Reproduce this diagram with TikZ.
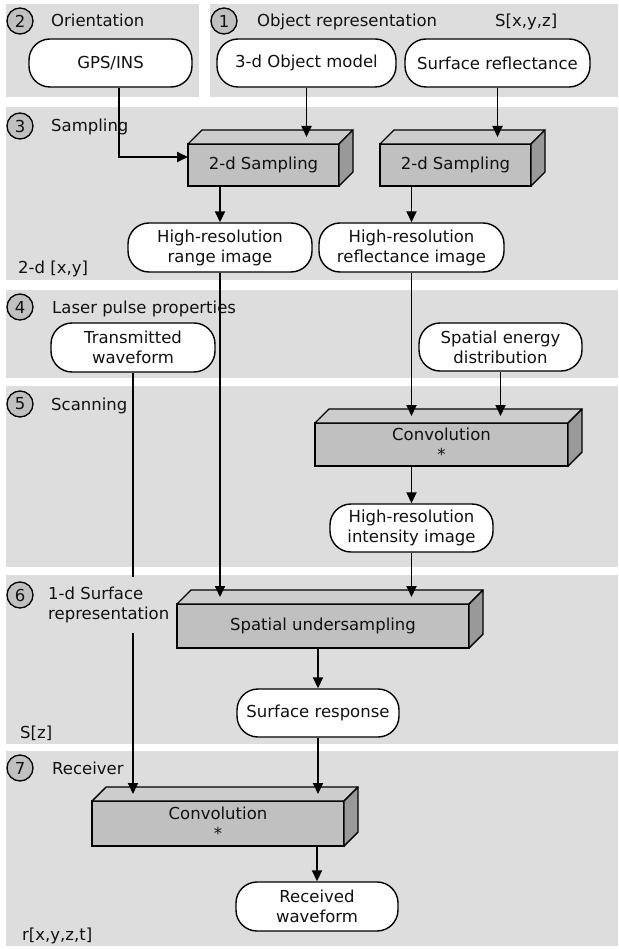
\documentclass[tikz,border=0pt]{standalone}
\usepackage{fontspec}
\setmainfont{DejaVu Sans}
\usetikzlibrary{arrows.meta,calc}
\definecolor{panel}{HTML}{DDDDDD}
\definecolor{frontc}{HTML}{C0C0C0}
\definecolor{topc}{HTML}{CDCDCD}
\definecolor{sidec}{HTML}{999999}
\definecolor{ink}{HTML}{111111}
\newcommand{\mkfaces}[1]{%
  \filldraw[fill=topc, line width=1.4pt, line join=round] (#1.north west) -- ++(14,-14) -- ($(#1.north east)+(14,-14)$) -- (#1.north east) -- cycle;
  \filldraw[fill=sidec, line width=1.4pt, line join=round] (#1.north east) -- ++(14,-14) -- ($(#1.south east)+(14,-14)$) -- (#1.south east) -- cycle;
}
\begin{document}
\begin{tikzpicture}[x=1pt,y=-1pt,
  font=\fontsize{16.5}{20}\selectfont,
  panelbg/.style={fill=panel, draw=none},
  pill/.style={draw, fill=white, line width=1.4pt, rounded corners=21pt, inner sep=0pt, align=center, minimum height=48pt, text=ink},
  boxfront/.style={draw, fill=frontc, line width=1.4pt, inner sep=0pt, outer sep=0pt, align=center, text=ink},
  numc/.style={circle, draw, fill=frontc, line width=1.3pt, minimum size=26pt, inner sep=0pt, text=ink},
  lbl/.style={anchor=base west, inner sep=0pt, text=ink},
  arr/.style={line width=1.8pt, -{Triangle[length=11pt,width=10pt]}}]
\useasboundingbox (0,0) rectangle (618,949);
% panels
\fill[panelbg] (6,4) rectangle (199,97);
\fill[panelbg] (210,4) rectangle (618,97);
\fill[panelbg] (6,107) rectangle (618,280);
\fill[panelbg] (6,290) rectangle (618,378);
\fill[panelbg] (6,386) rectangle (618,567);
\fill[panelbg] (6,575) rectangle (618,744);
\fill[panelbg] (6,751) rectangle (618,946);
% section numbers and labels
\node[numc] (n2) at (20,21) {2};
\node[lbl] (l2) at (51,27) {Orientation};
\node[numc] (n1) at (224,21) {1};
\node[lbl] (l1) at (257,27) {Object representation};
\node[lbl] (l1b) at (495,27) {S[x,y,z]};
\node[numc] (n3) at (20,126) {3};
\node[lbl] (l3) at (51,132) {Sampling};
\node[lbl] (l3b) at (18,274) {2-d [x,y]};
\node[numc] (n4) at (20,307) {4};
\node[lbl] (l4) at (52,313) {Laser pulse properties};
\node[numc] (n5) at (20,404) {5};
\node[lbl] (l5) at (51,410) {Scanning};
\node[numc] (n6) at (20,595) {6};
\node[lbl] (l6b) at (20,738) {S[z]};
\node[numc] (n7) at (20,768) {7};
\node[lbl] (l7) at (52,774) {Receiver};
\node[lbl] (l7b) at (22,940) {r[x,y,z,t]};
% rounded nodes
\node[pill, minimum width=163pt] (gps) at (110.5,63) {GPS/INS};
\node[pill, minimum width=179pt] (obj) at (306.5,63) {3-d Object model};
\node[pill, minimum width=185pt] (refl) at (497.5,63) {Surface reflectance};
\node[pill, minimum width=184pt, minimum height=49pt] (range) at (220,247.5) {High-resolution\\range image};
\node[pill, minimum width=185pt, minimum height=49pt] (rimg) at (411.5,247.5) {High-resolution\\reflectance image};
\node[pill, minimum width=164pt, minimum height=49pt] (trans) at (133,347.5) {Transmitted\\waveform};
\node[pill, minimum width=163pt] (spat) at (500.5,347) {Spatial energy\\distribution};
\node[pill, minimum width=163pt] (intens) at (411.5,528) {High-resolution\\intensity image};
\node[pill, minimum width=162pt] (surf) at (318,713) {Surface response};
\node[pill, minimum width=162pt, minimum height=49pt] (recv) at (317,906.5) {Received\\waveform};
% 3-d boxes
\node[boxfront, minimum width=151pt, minimum height=42pt] (box1) at (263.5,165) {2-d Sampling};
\mkfaces{box1}
\node[boxfront, minimum width=151pt, minimum height=42pt] (box2) at (455.5,165) {2-d Sampling};
\mkfaces{box2}
\node[boxfront, minimum width=253pt, minimum height=43pt] (conv1) at (441.5,444.5) {Convolution\\*};
\mkfaces{conv1}
\node[boxfront, minimum width=292pt, minimum height=44pt] (under) at (323,626) {Spatial undersampling};
\mkfaces{under}
\node[boxfront, minimum width=252pt, minimum height=45pt] (conv2) at (218,823.5) {Convolution\\*};
\mkfaces{conv2}
% top face mid points
\coordinate (b1t) at ($(box1.north)+(0,-7)$);
\coordinate (b2t) at ($(box2.north)+(0,-7)$);
\coordinate (c1t) at ($(conv1.north)+(0,-7)$);
\coordinate (ut) at ($(under.north)+(0,-7)$);
\coordinate (c2t) at ($(conv2.north)+(0,-7)$);
% connectors
\draw[arr] ($(gps.south)+(8.5,0)$) |- ($(box1.west)+(0,-8)$);
\draw[arr] (obj.south) -- (obj.south |- b1t);
\draw[arr] (refl.south) -- (refl.south |- b2t);
\draw[arr] (box1.south -| range.north) -- (range.north);
\draw[arr] (box2.south -| rimg.north) -- (rimg.north);
\draw[arr] (range.south) -- (range.south |- ut);
\draw[arr] (rimg.south) -- (rimg.south |- c1t);
\draw[arr] (spat.south) -- (spat.south |- c1t);
\draw[arr] (conv1.south -| intens.north) -- (intens.north);
\draw[arr] (intens.south) -- (intens.south |- ut);
\draw[arr] (under.south -| surf.north) -- (surf.north);
\draw[arr] (surf.south) -- (surf.south |- c2t);
\draw[arr] (trans.south) -- (trans.south |- c2t);
\draw[arr] (conv2.south -| recv.north) -- (recv.north);
% label covering the line
\node[anchor=west, fill=panel, inner xsep=4pt, inner ysep=0pt, minimum height=56pt, align=left, text=ink] (l6) at (44,605) {1-d Surface\\representation};
\end{tikzpicture}
\end{document}
